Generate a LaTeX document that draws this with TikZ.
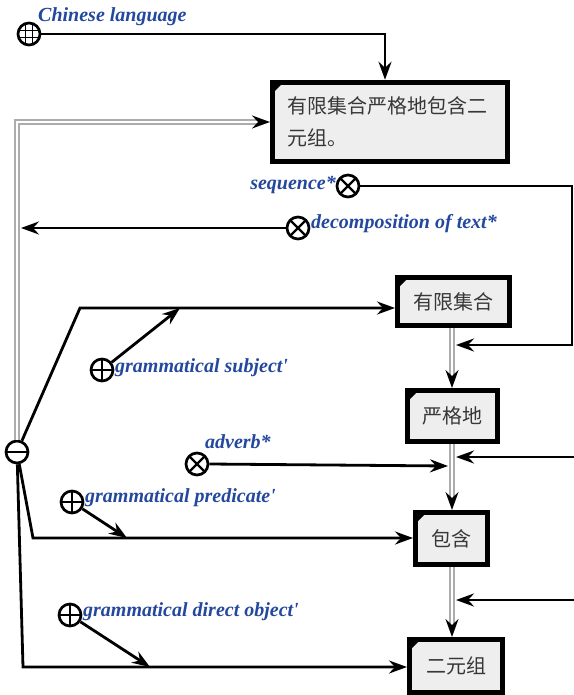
\documentclass[tikz,border=0pt]{standalone}
\usepackage{fontspec}
\newfontfamily\cjk{Noto Sans CJK SC}
\newfontfamily\lab{Liberation Serif}
\usetikzlibrary{arrows.meta}
\definecolor{labblue}{RGB}{36,72,158}
\definecolor{boxfill}{RGB}{238,238,238}
\definecolor{boxtext}{RGB}{55,55,55}
\begin{document}
\begin{tikzpicture}[x=1pt,y=-1pt,
  tip/.style={-{Stealth[length=18pt,width=13pt,inset=6pt]}},
  conn/.style={line width=2.8pt, tip},
  dblarr/.style={draw=gray!65, line width=1.7pt, double=white, double distance=2.8pt,
    -{Stealth[length=18pt,width=13pt,inset=6pt,black]}},
  box/.style={draw, line width=5pt, fill=boxfill, text=boxtext,
    font=\cjk\fontsize{20}{32}\selectfont, inner sep=0pt,
    path picture={\fill[black] (path picture bounding box.north west) -- ++(11pt,0pt) -- ++(-11pt,-11pt) -- cycle;}},
  sym/.style={circle, draw, line width=2.7pt, minimum size=22pt, inner sep=0pt},
  plussym/.style={sym, path picture={\draw[line width=2.3pt]
     (path picture bounding box.north) -- (path picture bounding box.south)
     (path picture bounding box.west) -- (path picture bounding box.east);}},
  timessym/.style={sym, path picture={\draw[line width=2.3pt]
     (path picture bounding box.north west) -- (path picture bounding box.south east)
     (path picture bounding box.south west) -- (path picture bounding box.north east);}},
  minussym/.style={sym, path picture={\draw[line width=2.3pt]
     (path picture bounding box.west) -- (path picture bounding box.east);}},
  gridsym/.style={sym, path picture={\draw[line width=1.7pt]
     (path picture bounding box.center) +(-3.5pt,-15pt) -- +(-3.5pt,15pt)
     (path picture bounding box.center) +(3.5pt,-15pt) -- +(3.5pt,15pt)
     (path picture bounding box.center) +(-15pt,-3.5pt) -- +(15pt,-3.5pt)
     (path picture bounding box.center) +(-15pt,3.5pt) -- +(15pt,3.5pt);}},
  lbl/.style={text=labblue, font=\lab\bfseries\itshape\fontsize{20}{22}\selectfont, inner sep=0pt}
]
\useasboundingbox (0,0) rectangle (573,695);

% boxes
\node[box, text width=205pt, align=left, inner xsep=15pt, minimum height=79.5pt] (b1) at (390,122)
  {有限集合严格地包含二\\元组。};
\node[box, minimum width=112pt, minimum height=48pt] (b2) at (453.5,301.5) {有限集合};
\node[box, minimum width=90pt, minimum height=51pt] (b3) at (452.5,416) {严格地};
\node[box, minimum width=72pt, minimum height=52pt] (b4) at (451.5,538.5) {包含};
\node[box, minimum width=93pt, minimum height=53pt] (b5) at (456,666) {二元组};

% symbols
\node[gridsym] (cl) at (29,34) {};
\node[lbl, anchor=west] (cll) at (38,17) {Chinese language};
\node[timessym] (seq) at (348,186) {};
\node[lbl, anchor=east] (seql) at (336,185) {sequence*};
\node[timessym] (dec) at (298,228) {};
\node[lbl, anchor=west] (decl) at (311,224) {decomposition of text*};
\node[minussym] (mn) at (17,452) {};
\node[plussym] (sub) at (102,370) {};
\node[lbl, anchor=west] (subl) at (115,368) {grammatical subject'};
\node[timessym] (adv) at (197,464) {};
\node[lbl, anchor=west] (advl) at (205,442) {adverb*};
\node[plussym] (pre) at (72,502) {};
\node[lbl, anchor=west] (prel) at (85,498) {grammatical predicate'};
\node[plussym] (obj) at (70,615) {};
\node[lbl, anchor=west] (objl) at (83,612) {grammatical direct object'};

% coordinates
\coordinate (col) at (452,0);
\coordinate (t1) at (385,34);
\coordinate (r0) at (572,186);
\coordinate (r1) at (572,345);
\coordinate (j1) at (456,345);
\coordinate (e2) at (576,457);
\coordinate (j2) at (456,457);
\coordinate (e3) at (576,600);
\coordinate (j3) at (456,600);
\coordinate (j4) at (448,466);
\coordinate (j5) at (21,228);
\coordinate (k1) at (80,308);
\coordinate (k2) at (33,538);
\coordinate (k3) at (23,667);
\coordinate (sa) at (180,308);
\coordinate (pa) at (127,538);
\coordinate (oa) at (150,667);

% connectors
\draw[conn] (cl.east) -- (t1) -- (t1 |- b1.north);
\draw[dblarr] (mn.north) |- (b1.west);
\draw[dblarr] (b2.south -| col) -- (b3.north -| col);
\draw[dblarr] (b3.south -| col) -- (b4.north -| col);
\draw[dblarr] (b4.south -| col) -- (b5.north -| col);
\draw[conn] (seq.east) -- (r0) -- (r1) -- (j1);
\draw[conn] (dec.west) -- (j5);
\draw[conn] (e2) -- (j2);
\draw[conn] (e3) -- (j3);
\draw[conn] (adv.east) -- (j4);
\draw[conn] (mn) -- (k1) -- (k1 -| b2.west);
\draw[conn] (mn) -- (k2) -- (k2 -| b4.west);
\draw[conn] (mn) -- (k3) -- (k3 -| b5.west);
\draw[conn] (sub) -- (sa);
\draw[conn] (pre) -- (pa);
\draw[conn] (obj) -- (oa);
\end{tikzpicture}
\end{document}
